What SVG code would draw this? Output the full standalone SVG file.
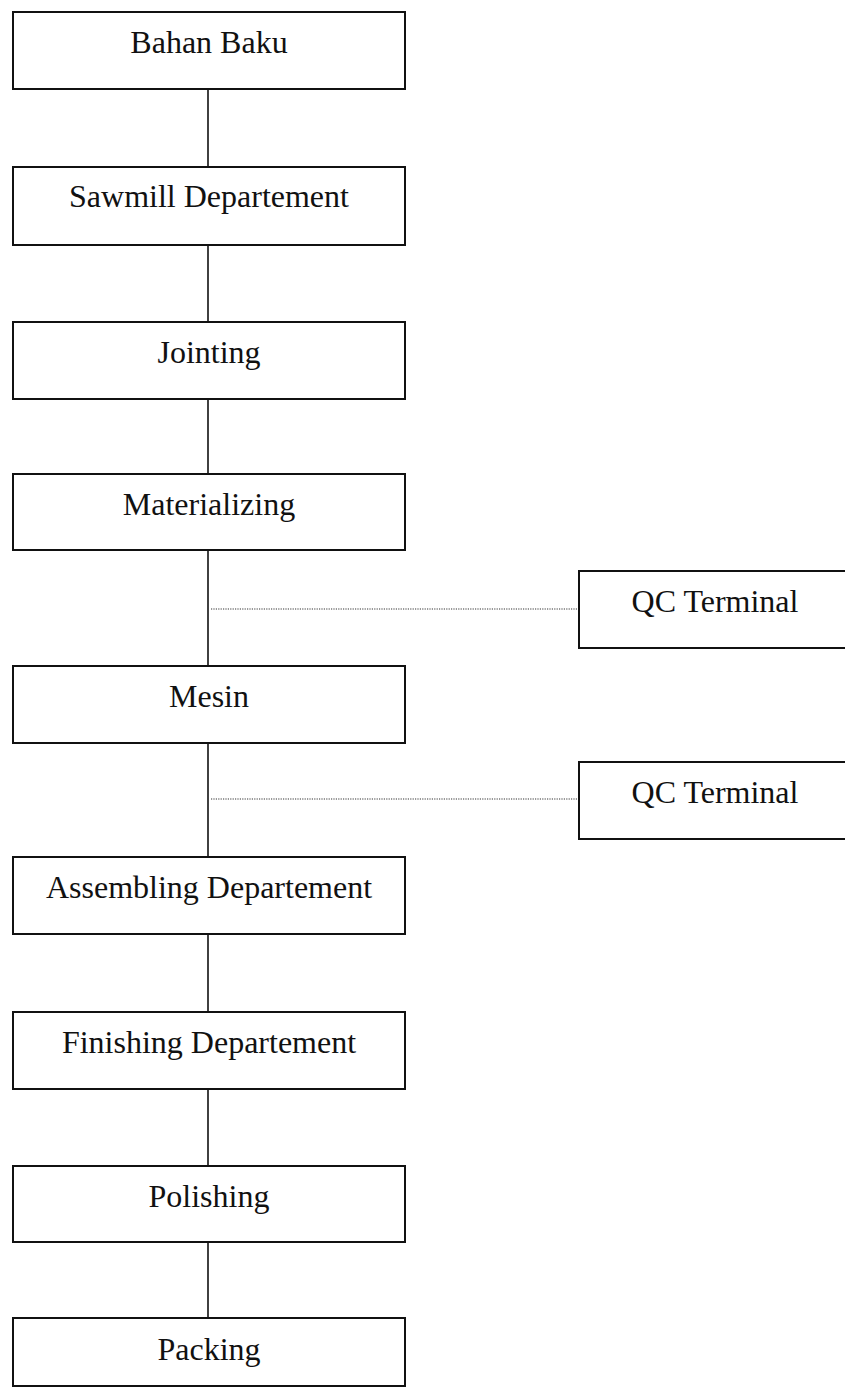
<svg xmlns="http://www.w3.org/2000/svg" width="845" height="1390" viewBox="0 0 845 1390">
<style>
.box{fill:#fff;stroke:#111;stroke-width:2}
.lbl{font-family:"Liberation Serif","Times New Roman",serif;font-size:32px;fill:#111;text-anchor:middle}
.conn{stroke:#111;stroke-width:1.6;fill:none}
.dot{stroke:#333;stroke-width:1.2;stroke-dasharray:1.2 1.2;fill:none}
</style>
<rect width="845" height="1390" fill="#fff"/>
<g id="connectors">
<line class="conn" x1="208" y1="89" x2="208" y2="167"/>
<line class="conn" x1="208" y1="245" x2="208" y2="322"/>
<line class="conn" x1="208" y1="399" x2="208" y2="474"/>
<line class="conn" x1="208" y1="550" x2="208" y2="666"/>
<line class="conn" x1="208" y1="743" x2="208" y2="857"/>
<line class="conn" x1="208" y1="934" x2="208" y2="1012"/>
<line class="conn" x1="208" y1="1089" x2="208" y2="1166"/>
<line class="conn" x1="208" y1="1242" x2="208" y2="1318"/>
<line class="dot" x1="211" y1="609" x2="579" y2="609"/>
<line class="dot" x1="211" y1="799" x2="579" y2="799"/>
</g>
<g id="bahan-baku"><rect class="box" x="13" y="12" width="392" height="77"/><text class="lbl" x="209" y="53">Bahan Baku</text></g>
<g id="sawmill"><rect class="box" x="13" y="167" width="392" height="78"/><text class="lbl" x="209" y="207">Sawmill Departement</text></g>
<g id="jointing"><rect class="box" x="13" y="322" width="392" height="77"/><text class="lbl" x="209" y="363">Jointing</text></g>
<g id="materializing"><rect class="box" x="13" y="474" width="392" height="76"/><text class="lbl" x="209" y="515">Materializing</text></g>
<g id="qc1"><rect class="box" x="579" y="571" width="272" height="77"/><text class="lbl" x="715" y="612">QC Terminal</text></g>
<g id="mesin"><rect class="box" x="13" y="666" width="392" height="77"/><text class="lbl" x="209" y="707">Mesin</text></g>
<g id="qc2"><rect class="box" x="579" y="762" width="272" height="77"/><text class="lbl" x="715" y="803">QC Terminal</text></g>
<g id="assembling"><rect class="box" x="13" y="857" width="392" height="77"/><text class="lbl" x="209" y="898">Assembling Departement</text></g>
<g id="finishing"><rect class="box" x="13" y="1012" width="392" height="77"/><text class="lbl" x="209" y="1053">Finishing Departement</text></g>
<g id="polishing"><rect class="box" x="13" y="1166" width="392" height="76"/><text class="lbl" x="209" y="1207">Polishing</text></g>
<g id="packing"><rect class="box" x="13" y="1318" width="392" height="68"/><text class="lbl" x="209" y="1360">Packing</text></g>
</svg>
